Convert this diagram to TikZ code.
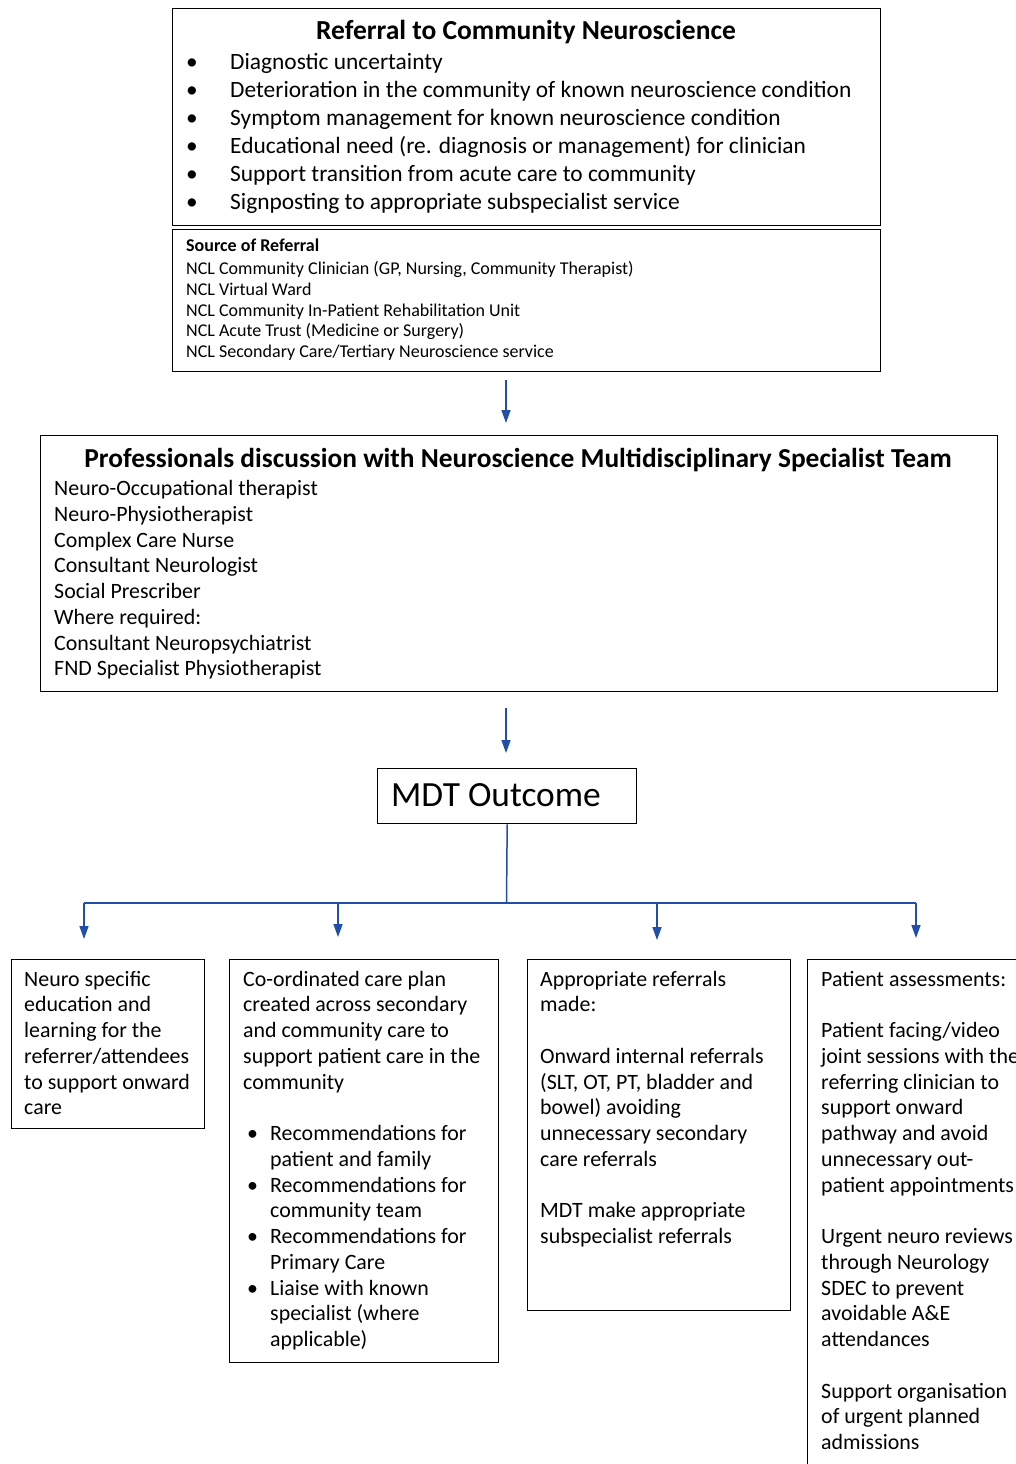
\documentclass[tikz,border=0pt]{standalone}
\usepackage{fontspec}
\setmainfont{Carlito}
\usetikzlibrary{arrows.meta}
\definecolor{arrowblue}{RGB}{32,78,168}
\begin{document}
\begin{tikzpicture}[x=1pt,y=-1pt,
  box/.style={draw, line width=1.4pt, inner sep=0pt, anchor=north west},
  txt/.style={inner sep=0pt, anchor=base west, align=left},
  ttl/.style={inner sep=0pt, anchor=base},
  conn/.style={draw=arrowblue, line width=1.5pt},
  arr/.style={conn, -{Triangle[width=9pt,length=13pt]}},
  big/.style={font=\fontsize{23.4}{28}\selectfont},
  small/.style={font=\fontsize{18}{20.75}\selectfont},
  mid/.style={font=\fontsize{21.9}{25.75}\selectfont}]
\clip (0,0) rectangle (1016,1464);
\fill[white] (0,0) rectangle (1016,1464);

% top box (text nodes anchored at the baseline of their last line)
\node[box, minimum width=708pt, minimum height=217pt] (top) at (172,8) {};
\node[ttl, font=\fontsize{27.5}{30}\bfseries\selectfont] (toptitle) at (526,40) {Referral to Community Neuroscience};
\node[txt, big] (toplist) at (186,209) {%
\makebox[44pt][l]{•}Diagnostic uncertainty\\
\makebox[44pt][l]{•}Deterioration in the community of known neuroscience condition\\
\makebox[44pt][l]{•}Symptom management for known neuroscience condition\\
\makebox[44pt][l]{•}Educational need (re. diagnosis or management) for clinician\\
\makebox[44pt][l]{•}Support transition from acute care to community\\
\makebox[44pt][l]{•}Signposting to appropriate subspecialist service};

% source box
\node[box, minimum width=708pt, minimum height=142pt] (src) at (172,229) {};
\node[txt, small] (srctitle) at (186,251.5) {\textbf{Source of Referral}};
\node[txt, small] (srclist) at (186,357.5) {%
NCL Community Clinician (GP, Nursing, Community Therapist)\\
NCL Virtual Ward\\
NCL Community In-Patient Rehabilitation Unit\\
NCL Acute Trust (Medicine or Surgery)\\
NCL Secondary Care/Tertiary Neuroscience service};

\coordinate (a1s) at (506,380);
\coordinate (a1e) at (506,423);
\draw[arr] (a1s) -- (a1e);

% professionals box
\node[box, minimum width=957pt, minimum height=256pt] (prof) at (40,435) {};
\node[ttl, font=\fontsize{27.4}{30}\bfseries\selectfont] (proftitle) at (518,467) {Professionals discussion with Neuroscience Multidisciplinary Specialist Team};
\node[txt, mid] (proflist) at (54,675.75) {%
Neuro-Occupational therapist\\
Neuro-Physiotherapist\\
Complex Care Nurse\\
Consultant Neurologist\\
Social Prescriber\\
Where required:\\
Consultant Neuropsychiatrist\\
FND Specialist Physiotherapist};

\coordinate (a2s) at (506,708);
\coordinate (a2e) at (506,753);
\draw[arr] (a2s) -- (a2e);

% MDT outcome
\node[box, minimum width=259pt, minimum height=55pt] (mdt) at (377,768) {};
\node[ttl, font=\fontsize{35.4}{38}\selectfont] (mdttext) at (496,806) {MDT Outcome};

\coordinate (j) at (506.5,903);
\coordinate (h1) at (84,903);
\coordinate (h2) at (338,903);
\coordinate (h3) at (657,903);
\coordinate (h4) at (916,903);
\coordinate (e1) at (84,939);
\coordinate (e2) at (338,937);
\coordinate (e3) at (657,940);
\coordinate (e4) at (916,938);
\draw[conn] (mdt.south) -- (j);
\draw[conn] (h1) -- (h4);
\draw[arr] (h1) -- (e1);
\draw[arr] (h2) -- (e2);
\draw[arr] (h3) -- (e3);
\draw[arr] (h4) -- (e4);

% bottom boxes
\node[box, minimum width=193pt, minimum height=169pt] (b1) at (11,959) {};
\node[txt, mid] (b1t) at (24,1114.75) {%
Neuro specific\\
education and\\
learning for the\\
referrer/attendees\\
to support onward\\
care};

\node[box, minimum width=269pt, minimum height=403pt] (b2) at (229,959) {};
\node[txt, mid] (b2t) at (243,1346.5) {%
Co-ordinated care plan\\
created across secondary\\
and community care to\\
support patient care in the\\
community\\[25.75pt]
\hspace*{4pt}\makebox[23pt][l]{•}Recommendations for\\
\hspace*{27pt}patient and family\\
\hspace*{4pt}\makebox[23pt][l]{•}Recommendations for\\
\hspace*{27pt}community team\\
\hspace*{4pt}\makebox[23pt][l]{•}Recommendations for\\
\hspace*{27pt}Primary Care\\
\hspace*{4pt}\makebox[23pt][l]{•}Liaise with known\\
\hspace*{27pt}specialist (where\\
\hspace*{27pt}applicable)};

\node[box, minimum width=263pt, minimum height=351pt] (b3) at (527,959) {};
\node[txt, mid] (b3t) at (540,1243.5) {%
Appropriate referrals\\
made:\\[25.75pt]
Onward internal referrals\\
(SLT, OT, PT, bladder and\\
bowel) avoiding\\
unnecessary secondary\\
care referrals\\[25.75pt]
MDT make appropriate\\
subspecialist referrals};

\node[box, minimum width=260pt, minimum height=560pt] (b4) at (807,959) {};
\node[txt, mid] (b4t) at (821,1449.5) {%
Patient assessments:\\[25.75pt]
Patient facing/video\\
joint sessions with the\\
referring clinician to\\
support onward\\
pathway and avoid\\
unnecessary out-\\
patient appointments\\[25.75pt]
Urgent neuro reviews\\
through Neurology\\
SDEC to prevent\\
avoidable A\&E\\
attendances\\[25.75pt]
Support organisation\\
of urgent planned\\
admissions};
\end{tikzpicture}
\end{document}
